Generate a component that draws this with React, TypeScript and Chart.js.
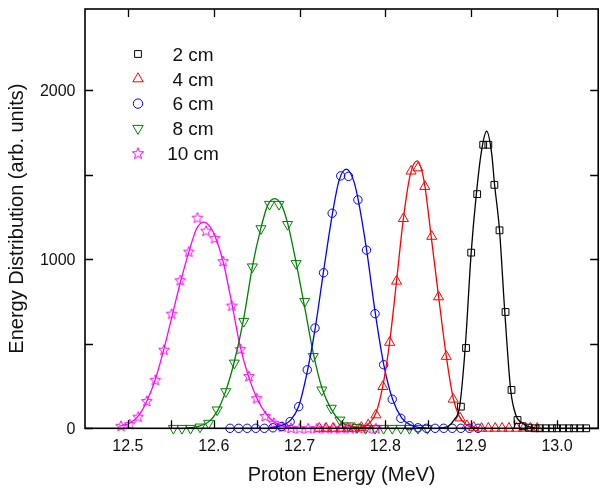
import React, { useEffect, useRef } from 'react';
import { Chart, registerables } from 'chart.js';

Chart.register(...registerables);

// ---- axis ranges & ticks ----
const X_MIN = 12.45;
const X_MAX = 13.048;
const Y_MIN = 0;
const Y_MAX = 2480;
const xTickValues = [12.5, 12.6, 12.7, 12.8, 12.9, 13.0];
const xMinorTickValues = [12.55, 12.65, 12.75, 12.85, 12.95];
const yTickValues = [0, 1000, 2000];
const yMinorTickValues = [500, 1500];

const xTitle = 'Proton Energy (MeV)';
const yTitle = 'Energy Distribution (arb. units)';
const seriesLabels = ['2 cm', '4 cm', '6 cm', '8 cm', '10 cm'];

// ---- 2 cm (squares) ----
const energy2 = [12.888, 12.894, 12.900, 12.907, 12.914, 12.920, 12.927, 12.933, 12.940, 12.947, 12.954, 12.960, 12.967, 12.974, 12.980, 12.987, 12.994, 13.000, 13.007, 13.014, 13.020, 13.027, 13.034];
const counts2 = [128, 475, 1039, 1385, 1677, 1677, 1440, 1171, 688, 227, 49, 12, 4, 0, 0, 0, 0, 0, 0, 0, 0, 0, 0];
const fitEnergy2 = [12.862, 12.868, 12.874, 12.880, 12.8865, 12.893, 12.900, 12.906, 12.912, 12.918, 12.924, 12.927, 12.933, 12.939, 12.946, 12.952, 12.960, 12.967, 12.975];
const fitCounts2 = [1, 4, 15, 50, 128, 475, 1039, 1385, 1640, 1757, 1620, 1454, 1171, 700, 227, 79, 30, 10, 2];

// ---- 4 cm (triangles up) ----
const energy4 = [12.723, 12.731, 12.739, 12.748, 12.756, 12.764, 12.772, 12.780, 12.789, 12.797, 12.805, 12.813, 12.821, 12.830, 12.838, 12.846, 12.854, 12.862, 12.871, 12.879, 12.887, 12.895, 12.903, 12.912, 12.920, 12.928, 12.936, 12.944, 12.953, 12.961, 12.969, 12.977];
const counts4 = [0, 0, 0, 0, 0, 0, 5, 20, 79, 247, 508, 870, 1240, 1521, 1540, 1430, 1135, 777, 425, 172, 61, 15, 5, 0, 0, 0, 0, 0, 0, 0, 0, 0];
const fitEnergy4 = [12.770, 12.776, 12.782, 12.789, 12.797, 12.805, 12.813, 12.821, 12.829, 12.837, 12.845, 12.853, 12.862, 12.871, 12.879, 12.886, 12.894, 12.902, 12.910];
const fitCounts4 = [2, 10, 35, 90, 250, 510, 870, 1240, 1500, 1582, 1465, 1150, 780, 425, 180, 72, 22, 6, 1];

// ---- 6 cm (circles) ----
const energy6 = [12.619, 12.629, 12.639, 12.649, 12.659, 12.669, 12.679, 12.689, 12.699, 12.709, 12.718, 12.728, 12.738, 12.748, 12.757, 12.768, 12.778, 12.788, 12.798, 12.808, 12.818, 12.828, 12.838, 12.848, 12.858, 12.868, 12.878, 12.888, 12.898, 12.908];
const counts6 = [0, 0, 0, 0, 0, 3, 10, 39, 128, 346, 593, 920, 1272, 1493, 1490, 1351, 1054, 678, 376, 172, 59, 15, 3, 0, 0, 0, 0, 0, 0, 0];
const fitEnergy6 = [12.665, 12.673, 12.681, 12.689, 12.699, 12.709, 12.7185, 12.728, 12.738, 12.746, 12.7546, 12.763, 12.768, 12.778, 12.788, 12.798, 12.8085, 12.819, 12.829, 12.839, 12.848];
const fitCounts6 = [3, 8, 20, 45, 130, 335, 600, 930, 1260, 1465, 1533, 1465, 1360, 1060, 690, 380, 170, 62, 20, 6, 2];

// ---- 8 cm (triangles down) ----
const energy8 = [12.553, 12.563, 12.573, 12.584, 12.594, 12.604, 12.614, 12.624, 12.635, 12.645, 12.655, 12.665, 12.676, 12.686, 12.696, 12.706, 12.716, 12.726, 12.737, 12.747, 12.757, 12.767, 12.777, 12.788, 12.798, 12.808, 12.818, 12.828, 12.838, 12.849];
const counts8 = [0, 0, 0, 8, 30, 109, 217, 386, 633, 955, 1181, 1325, 1325, 1206, 975, 751, 425, 227, 119, 49, 15, 5, 0, 0, 0, 0, 0, 0, 0, 0];
const fitEnergy8 = [12.568, 12.576, 12.584, 12.594, 12.604, 12.614, 12.624, 12.635, 12.645, 12.655, 12.663, 12.671, 12.679, 12.686, 12.696, 12.706, 12.716, 12.726, 12.737, 12.747, 12.757, 12.767, 12.777];
const fitCounts8 = [2, 6, 15, 38, 100, 220, 395, 650, 955, 1185, 1320, 1359, 1320, 1215, 980, 715, 445, 240, 112, 45, 16, 5, 1];

// ---- 10 cm (stars) ----
const energy10 = [12.492, 12.502, 12.512, 12.522, 12.532, 12.542, 12.551, 12.561, 12.571, 12.581, 12.591, 12.601, 12.611, 12.621, 12.631, 12.641, 12.650, 12.660, 12.670, 12.680, 12.690, 12.700, 12.710, 12.720, 12.730, 12.740, 12.749, 12.759, 12.769, 12.779, 12.789];
const counts10 = [15, 25, 69, 162, 287, 465, 678, 876, 1045, 1246, 1169, 1125, 989, 726, 469, 309, 178, 73, 33, 10, 3, 0, 0, 0, 0, 0, 0, 0, 0, 0, 0];
const fitEnergy10 = [12.490, 12.502, 12.512, 12.522, 12.532, 12.542, 12.552, 12.562, 12.572, 12.580, 12.5885, 12.596, 12.602, 12.611, 12.621, 12.631, 12.641, 12.651, 12.661, 12.671, 12.681, 12.691, 12.700];
const fitCounts10 = [12, 30, 72, 160, 290, 470, 675, 880, 1060, 1180, 1220, 1190, 1130, 985, 740, 480, 300, 170, 85, 35, 12, 4, 1];

const COLORS = ['#000000', '#ff0000', '#0000ff', '#008000', '#ff00ff'];
const FONT = '"Liberation Sans", Arial, Helvetica, sans-serif';

function pts(xs: number[], ys: number[]) {
  return xs.map((x, i) => ({ x, y: ys[i] }));
}

function makeStar(color: string, R: number, r: number): HTMLCanvasElement {
  const c = document.createElement('canvas');
  const size = Math.ceil(R * 2) + 4;
  c.width = size;
  c.height = size;
  const ctx = c.getContext('2d')!;
  const cx = size / 2;
  const cy = size / 2 + 0.5;
  ctx.beginPath();
  for (let i = 0; i < 10; i++) {
    const rad = i % 2 === 0 ? R : r;
    const a = -Math.PI / 2 + (i * Math.PI) / 5;
    const px = cx + rad * Math.cos(a);
    const py = cy + rad * Math.sin(a);
    if (i === 0) ctx.moveTo(px, py);
    else ctx.lineTo(px, py);
  }
  ctx.closePath();
  ctx.strokeStyle = color;
  ctx.lineWidth = 1;
  ctx.stroke();
  return c;
}

function drawLegendMarker(ctx: CanvasRenderingContext2D, kind: string, x: number, y: number, color: string, star: HTMLCanvasElement) {
  ctx.save();
  ctx.strokeStyle = color;
  ctx.lineWidth = 1;
  ctx.beginPath();
  if (kind === 'rect') {
    ctx.rect(x - 3.4, y - 3.4, 6.8, 6.8);
    ctx.stroke();
  } else if (kind === 'up') {
    const r = 6;
    ctx.moveTo(x, y - r);
    ctx.lineTo(x + r * 0.866, y + r * 0.5);
    ctx.lineTo(x - r * 0.866, y + r * 0.5);
    ctx.closePath();
    ctx.stroke();
  } else if (kind === 'down') {
    const r = 6;
    ctx.moveTo(x, y + r);
    ctx.lineTo(x + r * 0.866, y - r * 0.5);
    ctx.lineTo(x - r * 0.866, y - r * 0.5);
    ctx.closePath();
    ctx.stroke();
  } else if (kind === 'circle') {
    ctx.arc(x, y, 4.7, 0, Math.PI * 2);
    ctx.stroke();
  } else if (kind === 'star') {
    ctx.drawImage(star, x - star.width / 2, y - star.height / 2);
  }
  ctx.restore();
}

export default function App() {
  const canvasRef = useRef<HTMLCanvasElement | null>(null);

  useEffect(() => {
    const canvas = canvasRef.current;
    if (!canvas) return;
    const star = makeStar(COLORS[4], 5.6, 2.5);
    const legendStar = makeStar(COLORS[4], 6, 2.6);

    const markerSets = [
      { label: seriesLabels[0], data: pts(energy2, counts2), pointStyle: 'rect' as any, pointRadius: 4.8, rotation: 0, color: COLORS[0] },
      { label: seriesLabels[1], data: pts(energy4, counts4), pointStyle: 'triangle' as any, pointRadius: 5.8, rotation: 0, color: COLORS[1] },
      { label: seriesLabels[2], data: pts(energy6, counts6), pointStyle: 'circle' as any, pointRadius: 4.2, rotation: 0, color: COLORS[2] },
      { label: seriesLabels[3], data: pts(energy8, counts8), pointStyle: 'triangle' as any, pointRadius: 5.8, rotation: 180, color: COLORS[3] },
      { label: seriesLabels[4], data: pts(energy10, counts10), pointStyle: star as any, pointRadius: 5, rotation: 0, color: COLORS[4] },
    ];
    const fitSets = [
      pts(fitEnergy2, fitCounts2),
      pts(fitEnergy4, fitCounts4),
      pts(fitEnergy6, fitCounts6),
      pts(fitEnergy8, fitCounts8),
      pts(fitEnergy10, fitCounts10),
    ];

    const datasets: any[] = [];
    markerSets.forEach((m, i) => {
      datasets.push({
        label: m.label,
        data: m.data,
        showLine: false,
        pointStyle: m.pointStyle,
        pointRadius: m.pointRadius,
        pointRotation: m.rotation,
        pointBorderWidth: 1,
        pointBorderColor: m.color,
        pointBackgroundColor: 'rgba(0,0,0,0)',
        borderColor: m.color,
        backgroundColor: 'rgba(0,0,0,0)',
        clip: false,
      });
      datasets.push({
        label: m.label + ' fit',
        data: fitSets[i],
        showLine: true,
        pointRadius: 0,
        borderColor: m.color,
        borderWidth: 1.3,
        cubicInterpolationMode: 'monotone',
        fill: false,
        clip: false,
      });
    });

    const legendKinds = ['rect', 'up', 'circle', 'down', 'star'];

    const framePlugin = {
      id: 'framePlugin',
      afterDraw(chart: any) {
        const ctx: CanvasRenderingContext2D = chart.ctx;
        const area = chart.chartArea;
        const xs = chart.scales.x;
        const ys = chart.scales.y;
        ctx.save();
        // frame
        ctx.strokeStyle = '#000';
        ctx.lineWidth = 1.6;
        ctx.strokeRect(area.left, area.top, area.right - area.left, area.bottom - area.top);
        // ticks
        ctx.lineWidth = 1.3;
        const tl = 8;
        ctx.beginPath();
        [...xTickValues, ...xMinorTickValues].forEach((v) => {
          const px = Math.round(xs.getPixelForValue(v)) + 0.5;
          ctx.moveTo(px, area.bottom);
          ctx.lineTo(px, area.bottom - tl);
        });
        xTickValues.forEach((v) => {
          const px = Math.round(xs.getPixelForValue(v)) + 0.5;
          ctx.moveTo(px, area.top);
          ctx.lineTo(px, area.top + tl);
        });
        [...yTickValues, ...yMinorTickValues].forEach((v) => {
          const py = Math.round(ys.getPixelForValue(v)) + 0.5;
          ctx.moveTo(area.left, py);
          ctx.lineTo(area.left + tl, py);
          ctx.moveTo(area.right, py);
          ctx.lineTo(area.right - tl, py);
        });
        ctx.stroke();

        // tick labels
        ctx.fillStyle = '#111';
        ctx.font = `16px ${FONT}`;
        ctx.textAlign = 'center';
        ctx.textBaseline = 'alphabetic';
        xTickValues.forEach((v) => {
          ctx.fillText(v.toFixed(1), xs.getPixelForValue(v), area.bottom + 22.5);
        });
        ctx.textAlign = 'right';
        yTickValues.forEach((v) => {
          ctx.fillText(String(v), area.left - 9.5, ys.getPixelForValue(v) + 6);
        });

        // axis titles
        ctx.font = `20px ${FONT}`;
        ctx.textAlign = 'center';
        ctx.fillText(xTitle, (area.left + area.right) / 2, 481);
        ctx.save();
        ctx.translate(23, (area.top + area.bottom) / 2);
        ctx.rotate(-Math.PI / 2);
        ctx.fillText(yTitle, 0, 0);
        ctx.restore();

        // legend
        ctx.font = `19px ${FONT}`;
        ctx.textAlign = 'center';
        seriesLabels.forEach((lab, i) => {
          const cy = 54 + i * 24.8;
          drawLegendMarker(ctx, legendKinds[i], 138, cy, COLORS[i], legendStar);
          ctx.fillStyle = '#111';
          ctx.fillText(lab, 193, cy + 6.8);
        });
        ctx.restore();
      },
    };

    const chart = new Chart(canvas, {
      type: 'scatter',
      data: { datasets },
      options: {
        responsive: false,
        animation: false,
        events: [],
        devicePixelRatio: 1,
        layout: { padding: { left: 85, right: 1.7, top: 9, bottom: 60.7 } },
        plugins: { legend: { display: false }, tooltip: { enabled: false } },
        scales: {
          x: { type: 'linear', min: X_MIN, max: X_MAX, display: false },
          y: { type: 'linear', min: Y_MIN, max: Y_MAX, display: false },
        },
      } as any,
      plugins: [framePlugin],
    });
    return () => chart.destroy();
  }, []);

  return (
    <div style={{ position: 'absolute', left: 0, top: 0, width: 605, height: 489, background: '#fff' }}>
      <canvas ref={canvasRef} width={605} height={489} style={{ width: 605, height: 489, display: 'block' }} />
    </div>
  );
}
